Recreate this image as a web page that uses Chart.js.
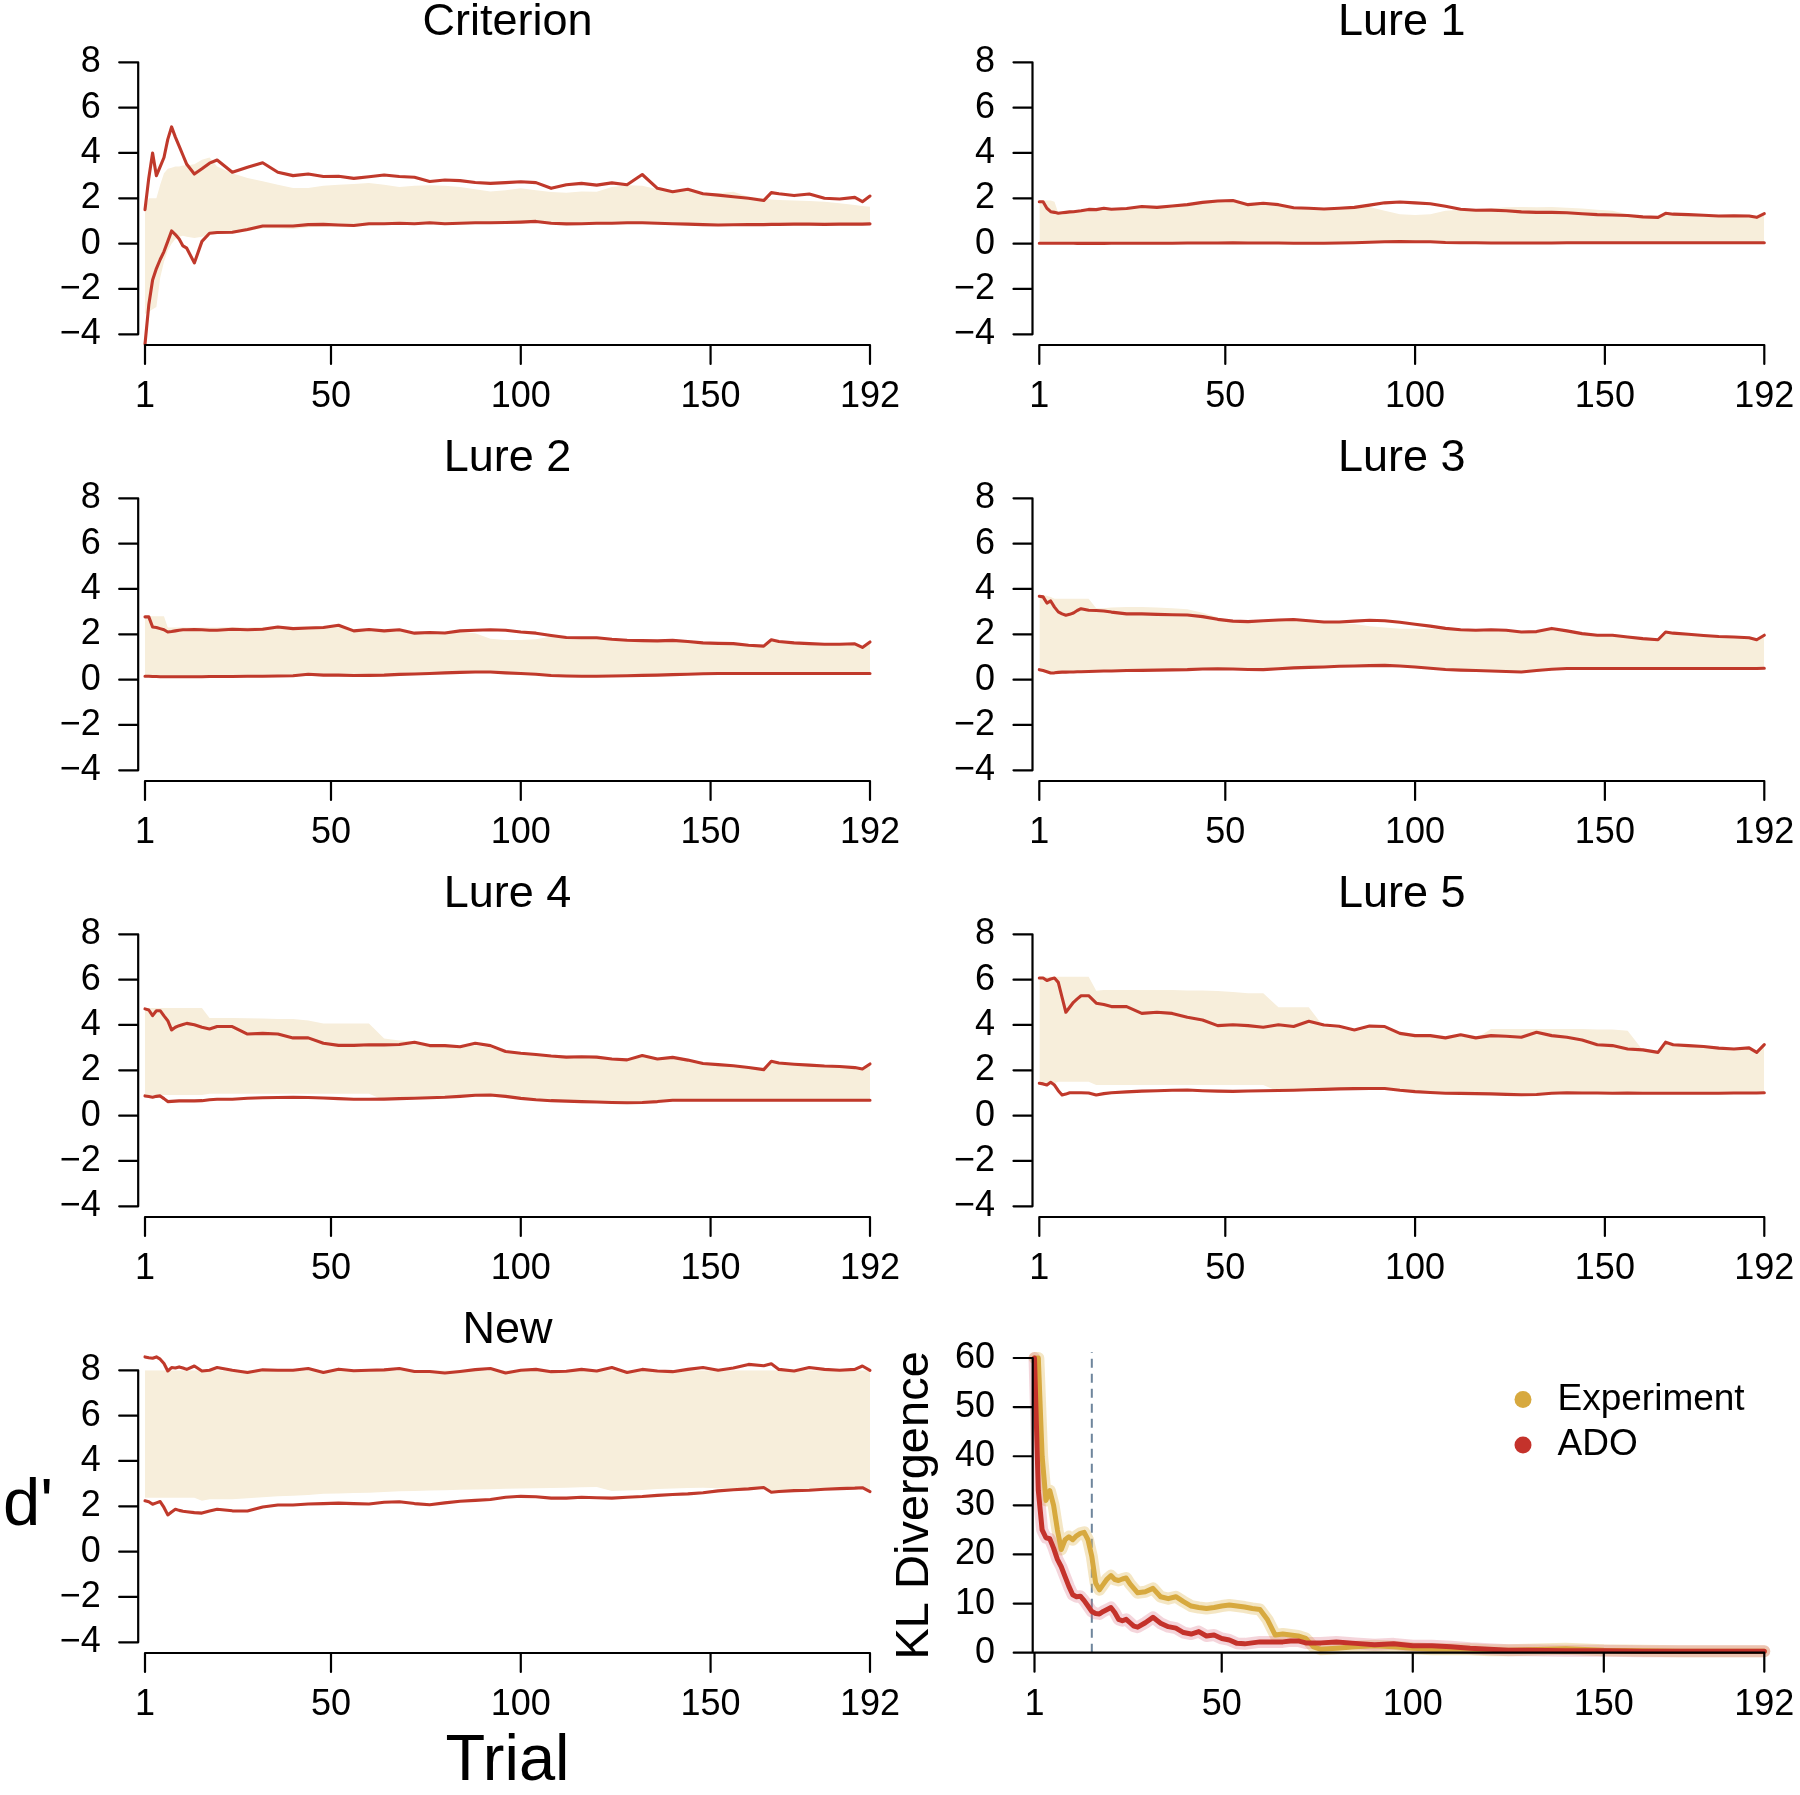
<!DOCTYPE html>
<html>
<head>
<meta charset="utf-8">
<script src="https://cdn.jsdelivr.net/npm/chart.js@4.4.1/dist/chart.umd.min.js"></script>
<style>
html,body{margin:0;padding:0;background:#fff;overflow:hidden;}
#wrap{position:relative;width:1800px;height:1795px;overflow:hidden;background:#fff;}
#wrap canvas{position:absolute;}
</style>
</head>
<body>
<div id="wrap"></div>
<script>
// ---------------- DATA ----------------
const trials = [1,2,3,4,5,6,7,8,9,10, 11,12,14,16,18,20,24,28,32,36, 40,44,48,52,56,60,64,68,72,76, 80,84,88,92,96,100,104,108,112,116, 120,124,128,132,136,140,144,148,152,156, 160,164,166,168,172,176,180,184,188,190,192];
const xTickValues = [1, 50, 100, 150, 192];
const dTickValues = [-4, -2, 0, 2, 4, 6, 8];
const klTickValues = [0, 10, 20, 30, 40, 50, 60];
const panelTitles = ['Criterion', 'Lure 1', 'Lure 2', 'Lure 3', 'Lure 4', 'Lure 5', 'New'];

const critUpper = [1.5,2.9,4.0,3.0,3.4,3.8,4.6,5.15,4.7,4.3, 3.9,3.5,3.07,3.3,3.55,3.69,3.15,3.37,3.57,3.15, 3.0,3.07,2.96,2.97,2.88,2.95,3.03,2.96,2.93,2.74, 2.81,2.78,2.7,2.66,2.69,2.73,2.69,2.44,2.6,2.66, 2.58,2.68,2.6,3.05,2.44,2.29,2.4,2.2,2.14,2.07, 2.0,1.9,2.25,2.2,2.12,2.19,2.0,1.97,2.04,1.85,2.1];
const critLower = [-4.43,-2.7,-1.6,-1.1,-0.7,-0.35,0.1,0.56,0.4,0.2, -0.1,-0.2,-0.85,0.1,0.46,0.49,0.5,0.62,0.78,0.78, 0.78,0.84,0.85,0.82,0.8,0.88,0.88,0.9,0.88,0.92, 0.88,0.9,0.92,0.92,0.93,0.95,0.98,0.9,0.87,0.88, 0.9,0.9,0.92,0.92,0.9,0.88,0.86,0.84,0.82,0.83, 0.84,0.84,0.85,0.85,0.86,0.86,0.85,0.86,0.86,0.86,0.87];
const critBandHi = [1.5,2.0,2.0,2.0,2.6,3.1,3.3,3.35,3.4,3.4, 3.45,3.45,3.5,3.7,3.8,3.4,3.1,2.9,2.75,2.6, 2.45,2.45,2.55,2.6,2.63,2.68,2.6,2.5,2.55,2.58, 2.55,2.5,2.4,2.3,2.35,2.44,2.35,2.28,2.25,2.3, 2.29,2.5,2.58,2.55,2.4,2.36,2.35,2.25,2.22,2.29, 2.07,2.0,1.95,1.92,1.9,1.88,1.85,1.78,1.7,1.66,1.63];
const critBandLo = [-3.1,-3.0,-2.9,-2.8,-1.5,-0.8,-0.3,0.0,0.2,0.3, 0.35,0.3,0.25,0.3,0.4,0.42,0.45,0.55,0.68,0.68, 0.65,0.72,0.76,0.74,0.75,0.8,0.82,0.84,0.83,0.86, 0.83,0.85,0.87,0.87,0.88,0.9,0.93,0.86,0.82,0.83, 0.85,0.85,0.87,0.87,0.85,0.83,0.81,0.79,0.77,0.78, 0.79,0.79,0.8,0.8,0.81,0.81,0.8,0.81,0.81,0.81,0.82];

const lure1Upper = [1.85,1.85,1.56,1.41,1.38,1.34,1.36,1.38,1.4,1.41, 1.43,1.45,1.51,1.5,1.56,1.52,1.55,1.64,1.6,1.66, 1.72,1.82,1.88,1.9,1.72,1.78,1.72,1.58,1.56,1.53, 1.56,1.6,1.7,1.8,1.84,1.8,1.76,1.65,1.52,1.47, 1.48,1.45,1.4,1.38,1.38,1.36,1.32,1.28,1.26,1.24, 1.18,1.16,1.34,1.3,1.28,1.25,1.22,1.23,1.22,1.16,1.32];
const lure1Lower = [0.02,0.02,0.02,0.02,0.02,0.02,0.02,0.02,0.02,0.02, 0.01,0.01,0.01,0.01,0.01,0.02,0.02,0.02,0.02,0.02, 0.03,0.03,0.03,0.04,0.03,0.03,0.03,0.02,0.02,0.02, 0.03,0.04,0.06,0.08,0.09,0.08,0.08,0.05,0.04,0.04, 0.03,0.03,0.03,0.03,0.03,0.04,0.04,0.04,0.04,0.04, 0.04,0.04,0.04,0.04,0.04,0.04,0.04,0.04,0.04,0.04,0.04];
const lure1BandHi = [1.9,1.9,1.9,1.9,1.85,1.35,1.34,1.36,1.38,1.39, 1.41,1.43,1.49,1.48,1.54,1.5,1.53,1.62,1.58,1.64, 1.7,1.8,1.86,1.88,1.7,1.76,1.7,1.56,1.54,1.51, 1.54,1.58,1.62,1.45,1.3,1.26,1.3,1.45,1.5,1.5, 1.55,1.6,1.62,1.6,1.62,1.58,1.55,1.5,1.45,1.3, 1.18,1.14,1.32,1.28,1.26,1.23,1.2,1.21,1.2,1.14,1.3];
const lure1BandLo = [0.0,0.0,0.0,0.0,0.0,0.0,0.0,0.0,0.0,0.0, 0.0,0.0,0.0,0.0,0.0,0.0,0.0,0.0,0.0,0.0, 0.01,0.01,0.01,0.01,0.01,0.01,0.01,0.0,0.0,0.0, 0.01,0.02,0.03,0.05,0.06,0.05,0.05,0.03,0.02,0.02, 0.01,0.01,0.01,0.01,0.01,0.02,0.02,0.02,0.02,0.02, 0.02,0.02,0.02,0.02,0.02,0.02,0.02,0.02,0.02,0.02,0.02];

const lure2Upper = [2.77,2.77,2.32,2.3,2.25,2.2,2.1,2.12,2.15,2.18, 2.2,2.2,2.21,2.2,2.18,2.18,2.22,2.2,2.22,2.32, 2.25,2.28,2.3,2.4,2.15,2.21,2.15,2.2,2.05,2.08, 2.06,2.15,2.18,2.2,2.18,2.1,2.05,1.95,1.86,1.85, 1.85,1.78,1.74,1.72,1.71,1.73,1.68,1.62,1.6,1.59, 1.52,1.48,1.76,1.68,1.62,1.59,1.56,1.56,1.58,1.42,1.66];
const lure2Lower = [0.15,0.15,0.14,0.14,0.13,0.13,0.13,0.13,0.13,0.13, 0.13,0.13,0.13,0.13,0.14,0.14,0.14,0.15,0.15,0.16, 0.17,0.24,0.2,0.2,0.18,0.19,0.2,0.23,0.25,0.27, 0.3,0.32,0.34,0.34,0.3,0.27,0.24,0.18,0.16,0.15, 0.15,0.16,0.17,0.19,0.2,0.22,0.24,0.26,0.27,0.27, 0.27,0.27,0.27,0.27,0.27,0.27,0.27,0.27,0.27,0.27,0.27];
const lure2BandHi = [2.8,2.8,2.8,2.8,2.8,2.8,2.3,2.3,2.3,2.3, 2.3,2.3,2.3,2.3,2.3,2.3,2.32,2.3,2.32,2.36, 2.32,2.34,2.36,2.4,2.13,2.19,2.13,2.18,2.03,2.06, 2.04,2.1,2.05,1.8,1.75,1.75,1.78,1.9,1.84,1.83, 1.83,1.76,1.72,1.7,1.69,1.71,1.66,1.6,1.58,1.57, 1.5,1.46,1.72,1.66,1.6,1.57,1.54,1.54,1.56,1.4,1.62];
const lure2BandLo = [0.11,0.11,0.1,0.1,0.1,0.1,0.1,0.1,0.1,0.1, 0.1,0.1,0.1,0.1,0.1,0.1,0.1,0.11,0.11,0.12, 0.13,0.2,0.16,0.16,0.14,0.15,0.16,0.19,0.21,0.23, 0.26,0.28,0.3,0.3,0.26,0.23,0.2,0.14,0.12,0.11, 0.11,0.12,0.13,0.15,0.16,0.18,0.2,0.22,0.23,0.23, 0.23,0.23,0.23,0.23,0.23,0.23,0.23,0.23,0.23,0.23,0.23];

const lure3Upper = [3.68,3.65,3.38,3.47,3.2,2.99,2.9,2.84,2.88,2.94, 3.05,3.13,3.06,3.05,3.03,2.98,2.9,2.9,2.88,2.86, 2.85,2.78,2.66,2.58,2.56,2.6,2.63,2.65,2.6,2.54, 2.54,2.58,2.62,2.6,2.53,2.44,2.36,2.26,2.2,2.18, 2.2,2.18,2.1,2.12,2.26,2.15,2.03,1.96,1.96,1.88, 1.81,1.76,2.1,2.05,2.0,1.95,1.9,1.88,1.85,1.76,1.96];
const lure3Lower = [0.44,0.4,0.35,0.29,0.3,0.32,0.33,0.33,0.34,0.34, 0.35,0.35,0.36,0.37,0.38,0.38,0.4,0.41,0.42,0.43, 0.44,0.47,0.48,0.47,0.45,0.44,0.48,0.52,0.54,0.56, 0.59,0.6,0.62,0.63,0.6,0.56,0.5,0.45,0.42,0.4, 0.38,0.36,0.34,0.4,0.46,0.49,0.49,0.49,0.49,0.49, 0.49,0.49,0.49,0.49,0.49,0.49,0.49,0.49,0.49,0.49,0.5];
const lure3BandHi = [3.72,3.72,3.7,3.65,3.57,3.57,3.57,3.57,3.57,3.57, 3.57,3.57,3.57,3.15,3.15,3.18,3.2,3.2,3.18,3.15, 3.1,2.95,2.75,2.56,2.54,2.58,2.61,2.63,2.58,2.52, 2.5,2.45,2.35,2.3,2.25,2.25,2.25,2.2,2.18,2.16, 2.18,2.16,2.08,2.1,2.22,2.13,2.01,1.94,1.94,1.86, 1.79,1.74,2.06,2.02,1.98,1.93,1.88,1.86,1.83,1.74,1.92];
const lure3BandLo = [0.4,0.36,0.31,0.25,0.26,0.28,0.29,0.29,0.3,0.3, 0.31,0.31,0.32,0.33,0.34,0.34,0.36,0.37,0.38,0.39, 0.4,0.43,0.44,0.43,0.41,0.4,0.44,0.48,0.5,0.52, 0.55,0.56,0.58,0.59,0.56,0.52,0.46,0.41,0.38,0.36, 0.34,0.32,0.3,0.36,0.42,0.45,0.45,0.45,0.45,0.45, 0.45,0.45,0.45,0.45,0.45,0.45,0.45,0.45,0.45,0.45,0.46];

const lure4Upper = [4.71,4.66,4.41,4.63,4.63,4.4,4.19,3.78,3.9,3.97, 4.02,4.07,4.01,3.9,3.82,3.93,3.93,3.6,3.63,3.6, 3.43,3.43,3.19,3.1,3.1,3.13,3.12,3.14,3.24,3.09, 3.09,3.04,3.19,3.09,2.83,2.75,2.7,2.63,2.58,2.6, 2.58,2.5,2.46,2.65,2.5,2.57,2.45,2.3,2.25,2.2, 2.12,2.03,2.4,2.32,2.27,2.23,2.19,2.17,2.12,2.06,2.28];
const lure4Lower = [0.87,0.84,0.81,0.85,0.87,0.75,0.62,0.63,0.64,0.65, 0.65,0.65,0.65,0.66,0.7,0.72,0.72,0.77,0.79,0.8, 0.81,0.8,0.78,0.75,0.72,0.72,0.73,0.75,0.77,0.79, 0.81,0.85,0.9,0.91,0.85,0.76,0.7,0.66,0.64,0.62, 0.6,0.58,0.57,0.58,0.62,0.68,0.68,0.68,0.68,0.68, 0.68,0.68,0.68,0.68,0.68,0.68,0.68,0.68,0.68,0.68,0.68];
const lure4BandHi = [4.75,4.75,4.75,4.75,4.75,4.75,4.75,4.75,4.75,4.75, 4.75,4.75,4.75,4.75,4.31,4.31,4.31,4.3,4.28,4.26, 4.26,4.2,4.07,4.07,4.07,4.07,3.4,3.31,3.28,3.05, 3.05,3.0,3.1,3.0,2.8,2.72,2.67,2.6,2.55,2.57, 2.55,2.47,2.43,2.6,2.47,2.54,2.42,2.27,2.22,2.17, 2.09,2.0,2.36,2.29,2.24,2.2,2.16,2.14,2.09,2.03,2.24];
const lure4BandLo = [0.91,0.91,0.91,0.91,0.91,0.91,0.91,0.91,0.91,0.91, 0.91,0.91,0.91,0.91,0.97,0.97,0.97,0.97,0.97,0.97, 0.97,0.97,0.97,0.97,0.97,0.97,0.69,0.71,0.73,0.75, 0.77,0.81,0.86,0.87,0.81,0.72,0.66,0.62,0.6,0.58, 0.56,0.54,0.53,0.54,0.58,0.64,0.64,0.64,0.64,0.64, 0.64,0.64,0.64,0.64,0.64,0.64,0.64,0.64,0.64,0.64,0.64];

const lure5Upper = [6.07,6.07,5.96,6.03,6.07,5.88,5.22,4.56,4.78,5.0, 5.15,5.29,5.29,4.96,4.9,4.81,4.81,4.51,4.56,4.51, 4.34,4.22,3.97,4.01,3.97,3.9,4.01,3.93,4.16,4.0, 3.94,3.78,3.95,3.93,3.63,3.53,3.53,3.43,3.57,3.43, 3.53,3.5,3.46,3.68,3.53,3.46,3.34,3.13,3.09,2.94, 2.9,2.79,3.24,3.13,3.09,3.05,2.98,2.94,2.99,2.79,3.13];
const lure5Lower = [1.43,1.4,1.35,1.47,1.35,1.1,0.91,0.95,1.01,1.01, 1.01,1.01,1.0,0.91,0.97,1.01,1.05,1.08,1.1,1.12, 1.13,1.1,1.08,1.07,1.09,1.1,1.11,1.12,1.14,1.16, 1.18,1.19,1.2,1.2,1.12,1.06,1.02,0.99,0.98,0.97, 0.96,0.94,0.92,0.93,0.99,1.01,1.0,1.0,0.99,1.0, 0.99,0.99,0.99,0.99,0.99,0.99,0.99,1.0,1.0,1.0,1.01];
const lure5BandHi = [6.13,6.13,6.13,6.13,6.13,6.13,6.13,6.13,6.13,6.13, 6.13,6.13,6.13,5.51,5.54,5.54,5.54,5.54,5.54,5.54, 5.52,5.52,5.5,5.45,5.4,5.4,4.78,4.78,4.78,3.9, 3.85,3.7,3.85,3.85,3.6,3.5,3.5,3.4,3.54,3.4, 3.82,3.82,3.82,3.82,3.82,3.82,3.82,3.8,3.8,3.75, 2.88,2.77,3.2,3.1,3.06,3.02,2.95,2.91,2.96,2.76,3.1];
const lure5BandLo = [1.43,1.43,1.43,1.43,1.43,1.5,1.5,1.5,1.5,1.5, 1.5,1.5,1.5,1.35,1.35,1.35,1.35,1.35,1.35,1.35, 1.35,1.35,1.35,1.35,1.35,1.35,1.07,1.08,1.1,1.12, 1.14,1.15,1.16,1.16,1.08,1.02,0.98,0.95,0.94,0.93, 0.92,0.9,0.88,0.89,0.95,0.97,0.96,0.96,0.95,0.96, 0.95,0.95,0.95,0.95,0.95,0.95,0.95,0.96,0.96,0.96,0.97];

const newUpper = [8.59,8.55,8.53,8.59,8.49,8.3,7.97,8.12,8.1,8.15, 8.1,8.04,8.19,7.97,8.0,8.12,8.0,7.9,8.02,8.0, 8.0,8.08,7.9,8.05,7.98,8.0,8.02,8.08,7.95,7.95, 7.88,7.95,8.03,8.08,7.88,8.0,8.04,7.94,7.96,8.04, 7.97,8.12,7.9,8.04,7.97,7.94,8.04,8.12,8.0,8.1, 8.26,8.2,8.29,8.04,7.97,8.12,8.04,8.0,8.04,8.19,8.0];
const newLower = [2.24,2.2,2.09,2.15,2.21,1.95,1.62,1.75,1.87,1.82, 1.78,1.76,1.72,1.7,1.79,1.87,1.8,1.79,1.97,2.06, 2.06,2.1,2.12,2.14,2.12,2.1,2.18,2.2,2.12,2.07, 2.15,2.22,2.26,2.3,2.4,2.44,2.42,2.36,2.36,2.4, 2.38,2.36,2.4,2.43,2.48,2.52,2.55,2.6,2.68,2.73, 2.77,2.83,2.62,2.65,2.69,2.71,2.75,2.78,2.8,2.82,2.65];
const newBandHi = [8.71,8.71,8.71,8.71,8.71,8.71,8.5,8.49,8.49,8.49, 8.49,8.49,8.49,8.44,8.5,8.63,8.45,8.4,8.42,8.38, 8.4,8.36,8.38,8.3,8.3,8.32,8.28,8.3,8.28,8.27, 8.28,8.26,8.27,8.25,8.26,8.26,8.25,8.24,8.24,8.22, 8.24,8.22,8.2,8.2,8.2,8.2,8.2,8.2,8.2,8.2, 8.26,8.2,8.29,8.04,7.97,8.12,8.04,8.0,8.04,8.19,8.0];
const newBandLo = [2.38,2.38,2.38,2.38,2.38,2.38,2.38,2.38,2.38,2.38, 2.38,2.38,2.38,2.24,2.31,2.31,2.31,2.36,2.4,2.44, 2.46,2.5,2.55,2.57,2.59,2.6,2.63,2.66,2.68,2.7, 2.71,2.73,2.74,2.75,2.77,2.79,2.8,2.81,2.82,2.84, 2.85,2.68,2.7,2.72,2.76,2.79,2.81,2.82,2.8,2.78, 2.8,2.83,2.62,2.65,2.69,2.71,2.75,2.78,2.8,2.82,2.65];

const klTrials = [1,2,3,4,5,6,7,8,9,10, 11,12,13,14,15,16,17,18,19,20, 21,22,23,24,25,26,27,28, 30,32,34,36,38,40,42,44,46,48,50,52,54,56,58,60,62,64,66,68,70,72,74,76, 80,85,90,95,100,105,110,115,120,125, 130,140,150,160,170,180,192];
const klExperiment = [60,60,40,31,33,30,25,21,23,23.6, 23,23.8,24.3,24.5,23,19.6,14.2,12.8,13.9,15, 15.7,14.9,14.7,15,15.2,14,13.1,12.2, 12.4,13.1,11.4,11,11.4,10.4,9.5,9.2,9.0,9.2,9.5,9.7,9.5,9.3,9.0,8.8,6.7,3.6,3.8,3.6,3.4,2.9,1.2,0.7, 0.9,1.2,1.4,1.2,0.9,0.7,0.7,0.7,0.5,0.5, 0.6,0.8,0.5,0.4,0.3,0.3,0.3];
const klADO = [60,33,25,23.4,23.2,21.3,19,17.5,15.5,13.5, 11.8,11.4,11.5,10.6,9.5,8.4,8.0,7.9,8.4,8.8, 9.2,8.2,6.8,6.5,6.8,6.1,5.4,5.2, 6.1,7.2,6.0,5.3,5.0,4.1,3.8,4.3,3.4,3.6,2.9,2.6,1.9,1.8,2.0,2.2,2.2,2.2,2.2,2.4,2.4,2.0,2.0,2.0, 2.2,1.9,1.6,1.8,1.4,1.4,1.2,0.9,0.7,0.5, 0.5,0.4,0.4,0.3,0.3,0.3,0.3];
const klMarkTrials = [16, 16];
const klMarkValues = [0, 61.2];
const klSeriesNames = ['Experiment', 'ADO'];

// ---------------- RENDERING ----------------
const FONT = '"Liberation Sans", Arial, Helvetica, sans-serif';
const RED = '#C0392B';
const BEIGE = '#F7EEDB';
const GOLD = '#D7A93F';
const KLRED = '#C4322B';
Chart.defaults.font.family = FONT;

const wrap = document.getElementById('wrap');
const pts = (xs, ys) => xs.map((x, i) => ({x: x, y: ys[i]}));
const fmt = v => (v < 0 ? '\u2212' + Math.abs(v) : String(v));

const rAxes = {
  id: 'rAxes',
  afterLayout(chart, args, o) {
    if (o && o.legendLeft !== undefined && chart.legend) {
      const lg = chart.legend;
      lg.left = o.legendLeft; lg.top = o.legendTop;
      lg.right = lg.left + lg.width; lg.bottom = lg.top + 300;
    }
  },
  afterDraw(chart, args, o) {
    if (!o || !o.on) return;
    const ctx = chart.ctx, ca = chart.chartArea;
    const xs = chart.scales.x, ys = chart.scales.y;
    ctx.save();
    ctx.strokeStyle = '#000'; ctx.lineWidth = 2.2; ctx.lineCap = 'round';
    const ax = ca.left - o.yGap, ay = ca.bottom + o.xGap;
    const yt = o.yTicks, xt = o.xTicks;
    ctx.beginPath();
    ctx.moveTo(ax, ys.getPixelForValue(yt[0]));
    ctx.lineTo(ax, ys.getPixelForValue(yt[yt.length - 1]));
    yt.forEach(v => { const p = ys.getPixelForValue(v); ctx.moveTo(ax, p); ctx.lineTo(ax - o.tickLen, p); });
    ctx.moveTo(xs.getPixelForValue(xt[0]), ay);
    ctx.lineTo(xs.getPixelForValue(xt[xt.length - 1]), ay);
    xt.forEach(v => { const p = xs.getPixelForValue(v); ctx.moveTo(p, ay); ctx.lineTo(p, ay + o.tickLen); });
    ctx.stroke();
    if (o.sideLabel) {
      ctx.fillStyle = '#000';
      ctx.font = o.sideFont;
      ctx.textAlign = 'left';
      ctx.textBaseline = 'alphabetic';
      ctx.fillText(o.sideLabel, o.sideX, o.sideY);
    }
    ctx.restore();
  }
};
Chart.register(rAxes);

function addCanvas(left, top, w, h) {
  const cv = document.createElement('canvas');
  cv.width = w; cv.height = h;
  cv.style.left = left + 'px'; cv.style.top = top + 'px';
  cv.style.width = w + 'px'; cv.style.height = h + 'px';
  wrap.appendChild(cv);
  return cv;
}

function tickFont(size) { return {family: FONT, size: size, lineHeight: 1}; }

function dPanel(p) {
  const cv = addCanvas(p.left, p.top, p.w, p.h);
  const plotTop = 62.3, plotBottom = 334.3;
  const line = (ys) => ({data: pts(trials, ys), borderColor: RED, borderWidth: 3.1, pointRadius: 0, fill: false,
    order: 1, clip: false, tension: 0, borderJoinStyle: 'round', borderCapStyle: 'round'});
  const xScale = {
    type: 'linear', min: 1, max: 192,
    grid: {display: true, drawOnChartArea: false, drawTicks: true, tickLength: 44.4, color: 'rgba(0,0,0,0)'},
    border: {display: false},
    afterBuildTicks: s => { s.ticks = xTickValues.map(v => ({value: v})); },
    afterFit: s => { s.height = p.h - plotBottom; },
    ticks: {autoSkip: false, maxRotation: 0, minRotation: 0, padding: 0, color: '#000', font: tickFont(36), callback: v => String(v)}
  };
  if (p.xTitle) {
    xScale.title = {display: true, text: p.xTitle, color: '#000', font: {family: FONT, size: 65, lineHeight: 1}, padding: {top: 0, bottom: 0}};
  }
  const pluginOpts = {on: true, yGap: 6.8, xGap: 10.7, tickLen: 19, yTicks: dTickValues, xTicks: xTickValues};
  if (p.sideLabel) {
    pluginOpts.sideLabel = p.sideLabel; pluginOpts.sideFont = '67px ' + FONT; pluginOpts.sideX = 3; pluginOpts.sideY = 216.5;
  }
  return new Chart(cv, {
    type: 'line',
    data: {datasets: [
      {data: pts(trials, p.bandLo), borderColor: 'rgba(0,0,0,0)', borderWidth: 0, pointRadius: 0, fill: false, order: 3, clip: false},
      {data: pts(trials, p.bandHi), borderColor: 'rgba(0,0,0,0)', borderWidth: 0, pointRadius: 0, fill: '-1', backgroundColor: BEIGE, order: 2, clip: false},
      line(p.upper),
      line(p.lower)
    ]},
    options: {
      responsive: false, animation: false, events: [],
      layout: {padding: {left: 0, right: p.w - p.plotRight, top: 0, bottom: 0}},
      plugins: {
        legend: {display: false},
        tooltip: {enabled: false},
        title: {display: true, text: p.title, fullSize: false, color: '#000',
          font: {family: FONT, size: 45, weight: 'normal', lineHeight: 1},
          padding: {top: 0, bottom: plotTop - 45}},
        rAxes: pluginOpts
      },
      scales: {
        x: xScale,
        y: {
          type: 'linear', min: -4, max: 8,
          grid: {display: true, drawOnChartArea: false, drawTicks: true, tickLength: 44.3, color: 'rgba(0,0,0,0)'},
          border: {display: false},
          afterBuildTicks: s => { s.ticks = dTickValues.map(v => ({value: v})); },
          afterFit: s => { s.width = p.plotLeft; },
          ticks: {padding: 0, color: '#000', font: tickFont(36), callback: fmt}
        }
      }
    }
  });
}

const dSeries = [
  [critUpper, critLower, critBandHi, critBandLo],
  [lure1Upper, lure1Lower, lure1BandHi, lure1BandLo],
  [lure2Upper, lure2Lower, lure2BandHi, lure2BandLo],
  [lure3Upper, lure3Lower, lure3BandHi, lure3BandLo],
  [lure4Upper, lure4Lower, lure4BandHi, lure4BandLo],
  [lure5Upper, lure5Lower, lure5BandHi, lure5BandLo],
  [newUpper, newLower, newBandHi, newBandLo]
];

dSeries.forEach((s, i) => {
  const col = i % 2, row = Math.floor(i / 2);
  const isLast = (row === 3);
  const geom = col === 0
    ? {left: 0, w: 930, plotLeft: 145, plotRight: 870}
    : {left: 900, w: 900, plotLeft: 139.3, plotRight: 864.3};
  dPanel(Object.assign({}, geom, {
    top: row * 436, h: isLast ? 487 : 436,
    title: panelTitles[i],
    upper: s[0], lower: s[1], bandHi: s[2], bandLo: s[3],
    xTitle: isLast ? 'Trial' : null,
    sideLabel: isLast ? "d'" : null
  }));
});

// KL divergence panel
(function () {
  const W = 930, H = 487, left = 870, top = 1308;
  const plotLeft = 164.5, plotRight = 894.3, plotTop = 50, plotBottom = 344.7;
  const cv = addCanvas(left, top, W, H);
  new Chart(cv, {
    type: 'line',
    data: {datasets: [
      {data: pts(klMarkTrials, klMarkValues), borderColor: '#6E859C', borderWidth: 2, borderDash: [9, 6], pointRadius: 0, fill: false, order: 6, clip: false},
      {data: pts(klTrials, klExperiment), borderColor: 'rgba(226,190,100,0.38)', borderWidth: 12, pointRadius: 0, fill: false, order: 5, clip: false, borderJoinStyle: 'round', borderCapStyle: 'round'},
      {data: pts(klTrials, klADO), borderColor: 'rgba(214,105,125,0.28)', borderWidth: 12, pointRadius: 0, fill: false, order: 4, clip: false, borderJoinStyle: 'round', borderCapStyle: 'round'},
      {label: klSeriesNames[0], data: pts(klTrials, klExperiment), borderColor: GOLD, backgroundColor: GOLD, borderWidth: 5, pointRadius: 0, fill: false, order: 2, clip: false, borderJoinStyle: 'round', borderCapStyle: 'round'},
      {label: klSeriesNames[1], data: pts(klTrials, klADO), borderColor: KLRED, backgroundColor: KLRED, borderWidth: 5, pointRadius: 0, fill: false, order: 1, clip: false, borderJoinStyle: 'round', borderCapStyle: 'round'}
    ]},
    options: {
      responsive: false, animation: false, events: [],
      layout: {padding: {left: 0, right: W - plotRight, top: plotTop, bottom: 0}},
      plugins: {
        tooltip: {enabled: false},
        title: {display: false},
        legend: {
          display: true, position: 'chartArea', align: 'start',
          labels: {
            usePointStyle: true, pointStyle: 'circle', boxWidth: 32, boxHeight: 12, padding: 8.5,
            color: '#000', font: {family: FONT, size: 37},
            filter: item => item.text === klSeriesNames[0] || item.text === klSeriesNames[1],
            sort: (a, b) => a.datasetIndex - b.datasetIndex,
            generateLabels: chart => Chart.defaults.plugins.legend.labels.generateLabels(chart)
              .map(l => Object.assign(l, {lineWidth: 0, strokeStyle: 'rgba(0,0,0,0)'}))
          }
        },
        rAxes: {on: true, yGap: 1.8, xGap: 0, tickLen: 19, yTicks: klTickValues, xTicks: xTickValues,
          legendLeft: 628.5, legendTop: 64.5}
      },
      scales: {
        x: {
          type: 'linear', min: 1, max: 192,
          grid: {display: true, drawOnChartArea: false, drawTicks: true, tickLength: 34, color: 'rgba(0,0,0,0)'},
          border: {display: false},
          afterBuildTicks: s => { s.ticks = xTickValues.map(v => ({value: v})); },
          afterFit: s => { s.height = H - plotBottom; },
          ticks: {autoSkip: false, maxRotation: 0, minRotation: 0, padding: 0, color: '#000', font: tickFont(36), callback: v => String(v)}
        },
        y: {
          type: 'linear', min: 0, max: 60,
          grid: {display: true, drawOnChartArea: false, drawTicks: true, tickLength: 39.5, color: 'rgba(0,0,0,0)'},
          border: {display: false},
          afterBuildTicks: s => { s.ticks = klTickValues.map(v => ({value: v})); },
          afterFit: s => { s.width = plotLeft; },
          ticks: {padding: 0, color: '#000', font: tickFont(36), callback: v => String(v)},
          title: {display: true, text: 'KL Divergence', color: '#000', font: {family: FONT, size: 47, lineHeight: 1}, padding: {top: 22, bottom: 0}}
        }
      }
    }
  });
})();
</script>
</body>
</html>
